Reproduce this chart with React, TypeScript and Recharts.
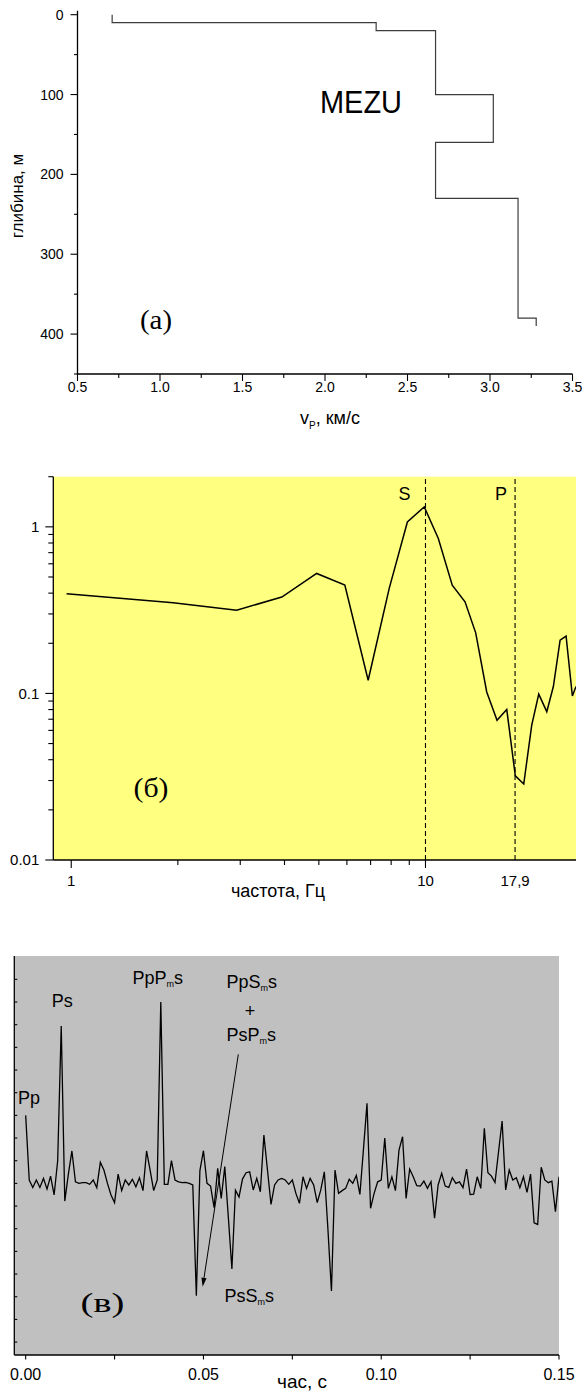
import React from 'react';
import { LineChart, Line, XAxis, YAxis, ReferenceLine, ReferenceDot, CartesianGrid } from 'recharts';

// ---------- (a) P-wave velocity profile, station MEZU ----------
const layerVelocity = [0.71, 2.31, 2.67, 3.02, 2.67, 3.17, 3.28]; // km/s
const layerTop = [0, 10, 20, 100, 160, 230, 380]; // m
const layerBottom = [10, 20, 100, 160, 230, 380, 390]; // m
const velocityTicks = [0.5, 0.75, 1, 1.25, 1.5, 1.75, 2, 2.25, 2.5, 2.75, 3, 3.25, 3.5];
const velocityMajor = [0.5, 1, 1.5, 2, 2.5, 3, 3.5];
const depthTicks = [0, 50, 100, 150, 200, 250, 300, 350, 400, 450];
const depthMajor = [0, 100, 200, 300, 400];

// ---------- (б) spectral ratio ----------
const frequency = [0.97, 1.94, 2.93, 3.93, 4.93, 5.92, 6.89, 7.9, 8.89, 9.92, 10.87, 11.9, 12.93, 13.86,
  14.89, 15.92, 16.96, 17.93, 18.94, 19.95, 20.88, 22.0, 22.96, 23.99, 24.94, 25.98, 26.6];
const spectralRatio = [0.396, 0.35, 0.316, 0.379, 0.525, 0.447, 0.12, 0.427, 1.07, 1.318, 0.852, 0.447,
  0.355, 0.231, 0.102, 0.069, 0.08, 0.032, 0.0286, 0.0646, 0.099, 0.0777, 0.11, 0.209, 0.221, 0.0965, 0.11];
const freqTicksBottom = [1, 2, 3, 4, 5, 6, 7, 8, 9, 10, 17.9];
const freqTicksTop = [1, 2, 3, 4, 5, 6, 7, 8, 9, 10, 20];
const freqMajor = [1, 10];
const freqLabels: Record<string, string> = { '1': '1', '10': '10', '17.9': '17,9' };
const ratioTicks = [0.01, 0.02, 0.03, 0.04, 0.05, 0.06, 0.07, 0.08, 0.09,
  0.1, 0.2, 0.3, 0.4, 0.5, 0.6, 0.7, 0.8, 0.9, 1, 2];
const ratioMajor = [0.01, 0.1, 1];
const ratioLabels: Record<string, string> = { '0.01': '0.01', '0.1': '0.1', '1': '1' };
const sPeakFreq = 10;
const pPeakFreq = 17.9;

// ---------- (в) receiver function trace ----------
const sampleStep = 0.001; // s
const traceAmp = [
  0.30, 0.015, -0.018, 0.015, -0.018, 0.022, -0.025, 0.032, -0.051, 0.10,
  0.694, -0.078, 0.04, 0.143, 0.007, 0.0, 0.003, 0.003, -0.004, 0.015,
  -0.019, 0.093, 0.059, 0.0, -0.051, -0.085, 0.041, -0.032, 0.015, -0.007,
  0.018, -0.015, 0.025, -0.032, 0.143, 0.059, -0.032, 0.015, 0.80, -0.004,
  -0.004, 0.10, 0.015, 0.007, 0.003, 0.004, 0.0, -0.007, -0.496, 0.056,
  0.144, 0.0, -0.012, -0.107, 0.066, -0.066, 0.074, -0.15, -0.378, -0.03,
  -0.06, 0.02, 0.047, 0.051, -0.029, 0.022, -0.037, 0.213, 0.06, -0.093,
  -0.007, 0.015, 0.022, 0.015, -0.004, 0.015, -0.044, -0.088, 0.029, -0.022,
  0.022, -0.007, -0.085, -0.029, 0.051, -0.2, -0.475, 0.059, -0.044, -0.032,
  -0.022, 0.018, 0.0, 0.035, -0.049, 0.15, 0.353, -0.11, -0.044, 0.007,
  0.015, 0.20, -0.022, 0.029, -0.032, 0.147, 0.206, -0.066, 0.063, 0.029,
  -0.01, -0.012, 0.01, -0.022, 0.007, -0.154, -0.007, 0.044, -0.012, -0.018,
  0.025, 0.0, 0.007, -0.019, 0.063, -0.049, -0.047, 0.029, -0.022, 0.243,
  0.047, 0.032, 0.004, 0.14, 0.275, -0.029, 0.059, 0.015, 0.025, -0.019,
  0.029, -0.04, 0.041, -0.174, -0.181, 0.071, 0.015, 0.003, 0.01, -0.125,
  0.029,
];
const timeTicks = [0, 0.025, 0.05, 0.075, 0.1, 0.125, 0.15];
const timeMajor = [0, 0.05, 0.1, 0.15];
const ampTicks = [-0.7, -0.6, -0.5, -0.4, -0.3, -0.2, -0.1, 0, 0.1, 0.2, 0.3, 0.4, 0.5, 0.6, 0.7, 0.8, 0.9];
const phaseIndex = { Pp: 0, Ps: 10, PpPms: 38, PsSms: 48 };

// ---------- tables built for the charts ----------
const profile = layerVelocity.flatMap((v, i) => [
  { v, depth: layerTop[i] },
  { v, depth: layerBottom[i] },
]);
const spectrum = frequency.map((f, i) => ({ f, r: spectralRatio[i] }));
const trace = traceAmp.map((v, i) => ({ t: i * sampleStep, v }));

// ---------- styling helpers ----------
const SANS = '"Liberation Sans", Arial, Helvetica, sans-serif';
const SERIF = '"Liberation Serif", "Times New Roman", serif';
const frame = { stroke: '#000', strokeWidth: 1.3 };

type Side = 'bottom' | 'top' | 'left' | 'right';
interface TickStyle {
  side: Side;
  inward?: boolean;
  majors: number[];
  majorLen: number;
  minorLen: number;
  label?: (v: number) => string | null;
  offset?: number;
  fontSize?: number;
  bare?: number[];
}
const same = (a: number, b: number) => Math.abs(a - b) < 1e-7;

function makeTick(s: TickStyle) {
  return (p: any) => {
    const { x, y, payload } = p;
    const val: number = payload.value;
    const major = s.majors.some((m) => same(m, val));
    const len = major ? s.majorLen : s.minorLen;
    let dx = 0;
    let dy = 0;
    if (s.side === 'bottom') dy = 1;
    else if (s.side === 'top') dy = -1;
    else if (s.side === 'left') dx = -1;
    else dx = 1;
    if (s.inward) {
      dx = -dx;
      dy = -dy;
    }
    const bare = (s.bare || []).some((b) => same(b, val));
    const text = s.label ? s.label(val) : null;
    const fs = s.fontSize || 14;
    let label = null;
    if (text) {
      if (s.side === 'bottom') {
        label = (
          <text x={x} y={y + (s.offset || 20)} textAnchor="middle" fontSize={fs} fontFamily={SANS} fill="#000">
            {text}
          </text>
        );
      } else if (s.side === 'left') {
        label = (
          <text x={x - (s.offset || 12)} y={y + fs * 0.36} textAnchor="end" fontSize={fs} fontFamily={SANS} fill="#000">
            {text}
          </text>
        );
      }
    }
    return (
      <g>
        {!bare && <line x1={x} y1={y} x2={x + dx * len} y2={y + dy * len} stroke="#000" strokeWidth={1.1} />}
        {label}
      </g>
    );
  };
}

const pick = (map: Record<string, string>) => (v: number) => {
  const k = Object.keys(map).find((key) => same(Number(key), v));
  return k ? map[k] : null;
};

// ---------- annotation pieces ----------
function Phase({ x, y, name, anchor = 'middle' }: { x: number; y: number; name: string; anchor?: string }) {
  // "PpP_ms" -> PpP with subscript m, then s
  const parts = name.split('_');
  return (
    <text x={x} y={y} textAnchor={anchor as any} fontSize={18} fontFamily={SANS} fill="#000">
      <tspan>{parts[0]}</tspan>
      {parts.slice(1).map((p, i) => (
        <React.Fragment key={i}>
          <tspan fontSize={9} dy={3}>{p[0]}</tspan>
          <tspan dy={-3}>{p.slice(1)}</tspan>
        </React.Fragment>
      ))}
    </text>
  );
}

function LineTag({ viewBox, text, dx }: any) {
  if (!viewBox) return null;
  return (
    <text x={viewBox.x + dx} y={viewBox.y + 23} textAnchor="middle" fontSize={18} fontFamily={SANS} fill="#000">
      {text}
    </text>
  );
}

function MultiplesNote({ cx, cy }: any) {
  // arrow from the PpSms + PsPms caption down to the PsSms trough
  const x1 = cx + 42;
  const y1 = cy - 241.5;
  const x2 = cx + 6.3;
  const y2 = cy - 9.1;
  const a = Math.atan2(y2 - y1, x2 - x1);
  const L = 9;
  const Wd = 2.6;
  const bx = x2 - L * Math.cos(a);
  const by = y2 - L * Math.sin(a);
  const head = `${x2},${y2} ${bx - Wd * Math.sin(a)},${by + Wd * Math.cos(a)} ${bx + Wd * Math.sin(a)},${by - Wd * Math.cos(a)}`;
  return (
    <g>
      <Phase x={cx + 55.3} y={cy - 307.5} name="PpS_ms" />
      <text x={cx + 53.6} y={cy - 279} textAnchor="middle" fontSize={18} fontFamily={SANS} fill="#000">+</text>
      <Phase x={cx + 55} y={cy - 255} name="PsP_ms" />
      <line x1={x1} y1={y1} x2={bx} y2={by} stroke="#000" strokeWidth={1} />
      <polygon points={head} fill="#000" />
      <Phase x={cx + 53} y={cy + 6.5} name="PsS_ms" />
    </g>
  );
}

// ---------- charts ----------
function ProfileChart() {
  return (
    <LineChart width={582} height={440} data={profile} margin={{ top: 10.7, right: 9.5, bottom: 26, left: 17.5 }}>
      <XAxis xAxisId="b" dataKey="v" type="number" domain={[0.5, 3.5]} allowDataOverflow ticks={velocityTicks}
        interval={0} height={40} tickSize={0} tickMargin={0} tickLine={false} axisLine={frame}
        tick={makeTick({ side: 'bottom', majors: velocityMajor, majorLen: 7, minorLen: 4, offset: 18, fontSize: 14,
          label: (v) => (velocityMajor.some((m) => same(m, v)) ? v.toFixed(1) : null) })} />
      <XAxis xAxisId="t" orientation="top" dataKey="v" type="number" domain={[0.5, 3.5]} allowDataOverflow
        ticks={velocityTicks} interval={0} height={0} tickSize={0} tickMargin={0} tickLine={false} axisLine={frame}
        tick={makeTick({ side: 'top', inward: true, majors: velocityMajor, majorLen: 5, minorLen: 4 })} />
      <YAxis yAxisId="l" dataKey="depth" type="number" reversed domain={[-5, 450]} allowDataOverflow ticks={depthTicks}
        interval={0} width={60} tickSize={0} tickMargin={0} tickLine={false} axisLine={frame}
        tick={makeTick({ side: 'left', majors: depthMajor, majorLen: 7, minorLen: 3.5, offset: 14, fontSize: 14,
          label: (v) => (depthMajor.includes(v) ? String(v) : null) })} />
      <YAxis yAxisId="r" orientation="right" dataKey="depth" type="number" reversed domain={[-5, 450]} allowDataOverflow
        ticks={depthTicks} interval={0} width={0} tickSize={0} tickMargin={0} tickLine={false} axisLine={frame}
        tick={makeTick({ side: 'right', inward: true, majors: depthMajor, majorLen: 5, minorLen: 4 })} />
      <Line xAxisId="t" yAxisId="r" dataKey="depth" stroke="none" dot={false} activeDot={false} isAnimationActive={false} />
      <Line xAxisId="b" yAxisId="l" dataKey="depth" type="linear" stroke="#3c3c3c" strokeWidth={1.2} dot={false}
        activeDot={false} isAnimationActive={false} />
    </LineChart>
  );
}

function SpectrumChart() {
  return (
    <LineChart width={582} height={470} data={spectrum} margin={{ top: 36.7, right: 6, bottom: 10, left: 3.3 }}>
      <CartesianGrid xAxisId="b" yAxisId="l" horizontal={false} vertical={false} fill="#ffff80" fillOpacity={1} />
      <XAxis xAxisId="b" dataKey="f" type="number" scale="log" domain={[0.89, 26.6]} allowDataOverflow
        ticks={freqTicksBottom} interval={0} height={40} tickSize={0} tickMargin={0} tickLine={false} axisLine={frame}
        tick={makeTick({ side: 'bottom', majors: freqMajor, majorLen: 8, minorLen: 5, offset: 26, fontSize: 15,
          label: pick(freqLabels), bare: [17.9] })} />
      <XAxis xAxisId="t" orientation="top" dataKey="f" type="number" scale="log" domain={[0.89, 26.6]} allowDataOverflow
        ticks={freqTicksTop} interval={0} height={0} tickSize={0} tickMargin={0} tickLine={false} axisLine={frame}
        tick={makeTick({ side: 'top', inward: true, majors: freqMajor, majorLen: 5, minorLen: 3 })} />
      <YAxis yAxisId="l" dataKey="r" type="number" scale="log" domain={[0.01, 2]} allowDataOverflow ticks={ratioTicks}
        interval={0} width={50} tickSize={0} tickMargin={0} tickLine={false} axisLine={frame}
        tick={makeTick({ side: 'left', majors: ratioMajor, majorLen: 8, minorLen: 5, offset: 14, fontSize: 15,
          label: pick(ratioLabels) })} />
      <YAxis yAxisId="r" orientation="right" dataKey="r" type="number" scale="log" domain={[0.01, 2]} allowDataOverflow
        ticks={ratioTicks} interval={0} width={0} tickSize={0} tickMargin={0} tickLine={false} axisLine={frame}
        tick={makeTick({ side: 'right', inward: true, majors: ratioMajor, majorLen: 8, minorLen: 5 })} />
      <ReferenceLine xAxisId="b" yAxisId="l" x={sPeakFreq} stroke="#000" strokeWidth={1.1} strokeDasharray="5 3"
        label={<LineTag text="S" dx={-21} />} />
      <ReferenceLine xAxisId="b" yAxisId="l" x={pPeakFreq} stroke="#000" strokeWidth={1.1} strokeDasharray="5 3"
        label={<LineTag text="P" dx={-14} />} />
      <Line xAxisId="t" yAxisId="r" dataKey="r" stroke="none" dot={false} activeDot={false} isAnimationActive={false} />
      <Line xAxisId="b" yAxisId="l" dataKey="r" type="linear" stroke="#000" strokeWidth={1.5} dot={false}
        activeDot={false} isAnimationActive={false} />
    </LineChart>
  );
}

function TraceChart() {
  const at = (i: number) => trace[i];
  return (
    <LineChart width={582} height={481} data={trace} margin={{ top: 46, right: 23, bottom: 6, left: 4.3 }}>
      <CartesianGrid xAxisId="b" yAxisId="l" horizontal={false} vertical={false} fill="#c0c0c0" fillOpacity={1} />
      <XAxis xAxisId="b" dataKey="t" type="number" domain={[-0.0032, 0.15]} allowDataOverflow ticks={timeTicks}
        interval={0} height={30} tickSize={0} tickMargin={0} tickLine={false} axisLine={frame}
        tick={makeTick({ side: 'bottom', majors: timeMajor, majorLen: 4.5, minorLen: 4.5, offset: 25, fontSize: 16,
          label: (v) => (timeMajor.some((m) => same(m, v)) ? v.toFixed(2) : null) })} />
      <XAxis xAxisId="t" orientation="top" dataKey="t" type="number" domain={[-0.0032, 0.15]} allowDataOverflow
        ticks={timeTicks} interval={0} height={0} tickSize={0} tickMargin={0} tickLine={false} axisLine={frame}
        tick={makeTick({ side: 'top', inward: true, majors: timeMajor, majorLen: 3.5, minorLen: 3.5 })} />
      <YAxis yAxisId="l" dataKey="v" type="number" domain={[-0.757, 1.003]} allowDataOverflow ticks={ampTicks}
        interval={0} width={10} tickSize={0} tickMargin={0} tickLine={false} axisLine={frame}
        tick={makeTick({ side: 'left', inward: true, majors: [], majorLen: 3, minorLen: 3 })} />
      <YAxis yAxisId="r" orientation="right" dataKey="v" type="number" domain={[-0.757, 1.003]} allowDataOverflow
        ticks={ampTicks} interval={0} width={0} tickSize={0} tickMargin={0} tickLine={false} axisLine={frame}
        tick={makeTick({ side: 'right', majors: [], majorLen: 3, minorLen: 3 })} />
      <Line xAxisId="t" yAxisId="r" dataKey="v" stroke="none" dot={false} activeDot={false} isAnimationActive={false} />
      <Line xAxisId="b" yAxisId="l" dataKey="v" type="linear" stroke="#000" strokeWidth={1.3} dot={false}
        activeDot={false} isAnimationActive={false} />
      <ReferenceDot xAxisId="b" yAxisId="l" x={at(phaseIndex.Pp).t} y={at(phaseIndex.Pp).v} r={0}
        shape={(p: any) => <Phase x={p.cx - 7.7} y={p.cy - 11} name="Pp" anchor="start" />} />
      <ReferenceDot xAxisId="b" yAxisId="l" x={at(phaseIndex.Ps).t} y={at(phaseIndex.Ps).v} r={0}
        shape={(p: any) => <Phase x={p.cx + 1} y={p.cy - 19} name="Ps" />} />
      <ReferenceDot xAxisId="b" yAxisId="l" x={at(phaseIndex.PpPms).t} y={at(phaseIndex.PpPms).v} r={0}
        shape={(p: any) => <Phase x={p.cx - 3} y={p.cy - 18} name="PpP_ms" />} />
      <ReferenceDot xAxisId="b" yAxisId="l" x={at(phaseIndex.PsSms).t} y={at(phaseIndex.PsSms).v} r={0}
        shape={(p: any) => <MultiplesNote cx={p.cx} cy={p.cy} />} />
    </LineChart>
  );
}

// panel letters and axis titles
function Captions() {
  return (
    <svg width={582} height={1391} style={{ position: 'absolute', left: 0, top: 0, pointerEvents: 'none' }}>
      <text transform="translate(23,196) rotate(-90)" textAnchor="middle" fontSize={17} fontFamily={SANS}>глибина, м</text>
      <text x={330} y={424} textAnchor="middle" fontSize={18} fontFamily={SANS}>
        <tspan>v</tspan>
        <tspan fontSize={10} dy={5}>P</tspan>
        <tspan dy={-5}>, км/с</tspan>
      </text>
      <text x={361} y={113} textAnchor="middle" fontSize={31} fontFamily={SANS} textLength={82} lengthAdjust="spacingAndGlyphs">MEZU</text>
      <text x={156} y={329} textAnchor="middle" fontSize={27} fontFamily={SERIF} textLength={32} lengthAdjust="spacingAndGlyphs">(a)</text>
      <text x={151} y={797} textAnchor="middle" fontSize={27} fontFamily={SERIF} textLength={35} lengthAdjust="spacingAndGlyphs">(б)</text>
      <text x={278} y={897} textAnchor="middle" fontSize={18} fontFamily={SANS}>частота, Гц</text>
      <text x={102.5} y={1312} textAnchor="middle" fontSize={27} fontFamily={SERIF} textLength={44} lengthAdjust="spacingAndGlyphs">(в)</text>
      <text x={302} y={1388} textAnchor="middle" fontSize={19} fontFamily={SANS}>час, с</text>
    </svg>
  );
}

export default function App() {
  return (
    <div style={{ position: 'relative', width: 582, height: 1391, overflow: 'hidden', background: '#fff' }}>
      <style>{'body{margin:0}'}</style>
      <div style={{ position: 'absolute', left: 0, top: 0 }}>
        <ProfileChart />
      </div>
      <div style={{ position: 'absolute', left: 0, top: 440 }}>
        <SpectrumChart />
      </div>
      <div style={{ position: 'absolute', left: 0, top: 910 }}>
        <TraceChart />
      </div>
      <Captions />
    </div>
  );
}
